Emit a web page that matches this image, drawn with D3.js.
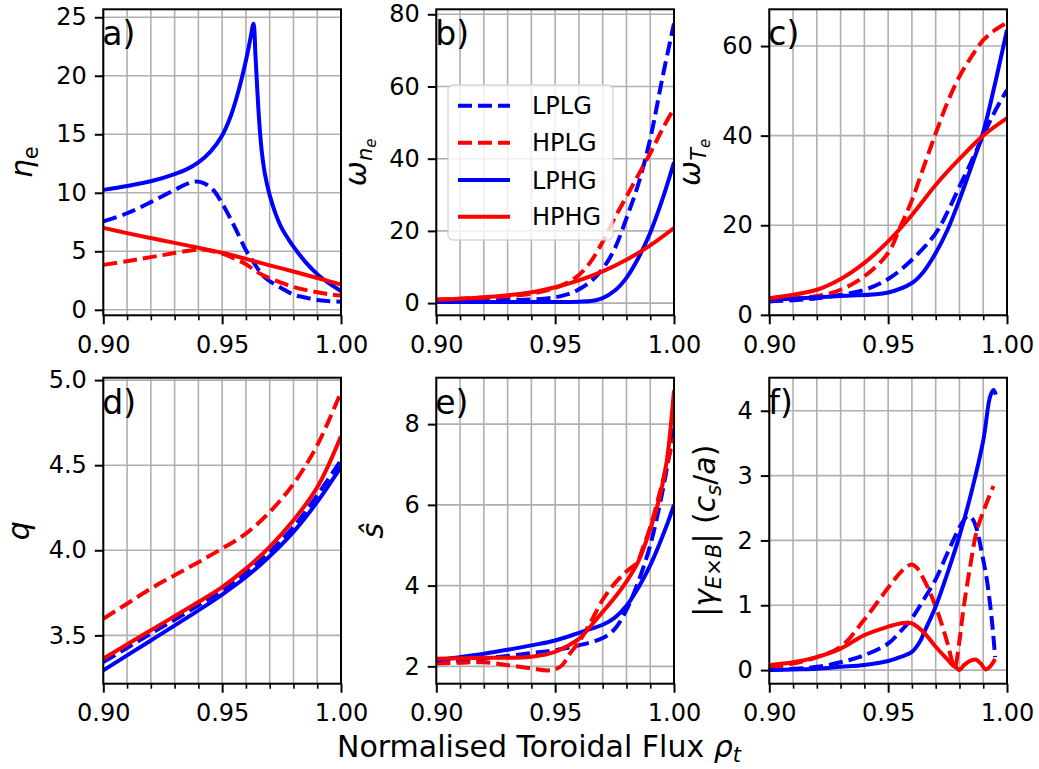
<!DOCTYPE html>
<html><head><meta charset="utf-8">
<script src="https://cdn.jsdelivr.net/npm/d3@7"></script>
<style>body{margin:0;background:#fff} svg{display:block} text{font-family:"DejaVu Sans",sans-serif;fill:#000}</style>
</head><body><svg id="c" width="1039" height="769"></svg>
<script>
// ---------------- DATA ----------------
const seriesNames = ["LPLG", "HPLG", "LPHG", "HPHG"];
const seriesColors = ["#0000ff", "#ff0000", "#0000ff", "#ff0000"];
const seriesDashed = [true, true, false, false];
const xMajorTicks = [0.90, 0.95, 1.00];
const xTickLabels = ["0.90", "0.95", "1.00"];
const xMinorTicks = [0.91, 0.92, 0.93, 0.94, 0.96, 0.97, 0.98, 0.99];
const xGrid = [0.90, 0.91, 0.92, 0.93, 0.94, 0.95, 0.96, 0.97, 0.98, 0.99, 1.00];
const panelLetters = ["a)", "b)", "c)", "d)", "e)", "f)"];

// a) eta_e
const a_LPLG = [[0.90,7.55],[0.91,8.25],[0.92,9.2],[0.93,10.25],[0.935,10.75],[0.9386,10.97],[0.942,10.85],[0.946,10.3],[0.95,9.1],[0.955,7.2],[0.96,5.1],[0.9617,4.55],[0.965,3.5],[0.967,2.95],[0.97,2.45],[0.975,1.85],[0.98,1.3],[0.985,1.05],[0.99,0.84],[0.995,0.74],[1.00,0.68]];
const a_HPLG = [[0.90,3.84],[0.91,4.15],[0.92,4.5],[0.93,4.85],[0.94,5.15],[0.945,5.05],[0.95,4.8],[0.955,4.4],[0.96,3.9],[0.965,3.2],[0.97,2.7],[0.975,2.3],[0.98,1.95],[0.985,1.7],[0.99,1.5],[0.995,1.33],[1.00,1.22]];
const a_LPHG = [[0.90,10.25],[0.91,10.58],[0.92,10.98],[0.93,11.6],[0.935,12.0],[0.94,12.6],[0.945,13.5],[0.95,14.9],[0.9537,16.6],[0.957,18.8],[0.96,21.3],[0.962,23.3],[0.9632,24.45],[0.9640,21.8],[0.9646,19.5],[0.9653,17.0],[0.9660,15.0],[0.9668,13.3],[0.968,11.6],[0.970,9.8],[0.9725,8.2],[0.975,7.0],[0.978,6.0],[0.98,5.4],[0.985,4.1],[0.99,3.05],[0.995,2.25],[1.00,1.6]];
const a_HPHG = [[0.90,7.0],[0.91,6.55],[0.92,6.13],[0.93,5.72],[0.94,5.3],[0.95,4.88],[0.96,4.35],[0.97,3.8],[0.98,3.27],[0.99,2.72],[1.00,2.15]];

// b) omega_ne
const b_LPLG = [[0.90,0.8],[0.92,0.8],[0.94,1.0],[0.95,1.6],[0.955,2.4],[0.96,3.8],[0.965,6.0],[0.97,9.5],[0.975,15],[0.98,23.5],[0.985,33],[0.99,45.5],[0.995,62],[1.00,77.5]];
const b_HPLG = [[0.90,1.0],[0.92,1.5],[0.94,2.6],[0.95,4.2],[0.955,5.6],[0.96,7.8],[0.965,11.5],[0.97,17],[0.975,23.5],[0.98,29.5],[0.985,35.5],[0.99,41.5],[0.995,48],[1.00,54]];
const b_LPHG = [[0.90,0.3],[0.95,0.3],[0.96,0.4],[0.965,0.6],[0.97,1.4],[0.975,3.4],[0.98,7.0],[0.985,12.5],[0.99,19.5],[0.995,28.5],[1.00,39]];
const b_HPHG = [[0.90,0.9],[0.92,1.6],[0.94,3.0],[0.95,4.4],[0.96,6.3],[0.97,8.8],[0.98,12.0],[0.99,16.0],[1.00,20.8]];

// c) omega_Te
const c_LPLG = [[0.90,3.0],[0.92,3.7],[0.94,5.6],[0.95,8.0],[0.96,12.3],[0.97,18.2],[0.975,23],[0.98,28.6],[0.985,34.2],[0.99,40.0],[0.995,45.5],[1.00,50.2]];
const c_HPLG = [[0.90,3.3],[0.92,4.2],[0.93,5.6],[0.94,8.6],[0.95,13.8],[0.955,19.5],[0.96,25.6],[0.965,33.1],[0.97,40.5],[0.975,47.5],[0.98,53.2],[0.985,57.6],[0.99,61.3],[0.995,63.6],[1.00,65.2]];
const c_LPHG = [[0.90,3.3],[0.93,4.2],[0.95,5.0],[0.96,7.1],[0.965,9.7],[0.97,13.8],[0.975,19],[0.98,25.7],[0.985,33.1],[0.99,40.8],[0.995,51.7],[1.00,63.6]];
const c_HPHG = [[0.90,3.7],[0.92,5.6],[0.93,8.0],[0.94,11.6],[0.95,16.4],[0.96,22.3],[0.97,29],[0.98,34.8],[0.99,40.0],[1.00,43.9]];

// d) q
const d_LPLG = [[0.90,3.343],[0.92,3.51],[0.94,3.676],[0.95,3.765],[0.96,3.867],[0.97,3.99],[0.98,4.137],[0.99,4.323],[1.00,4.53]];
const d_HPLG = [[0.90,3.598],[0.91,3.686],[0.92,3.775],[0.93,3.853],[0.94,3.93],[0.95,4.01],[0.96,4.098],[0.97,4.225],[0.98,4.39],[0.99,4.617],[1.00,4.93]];
const d_LPHG = [[0.90,3.294],[0.92,3.47],[0.94,3.647],[0.95,3.74],[0.96,3.843],[0.97,3.965],[0.98,4.108],[0.99,4.284],[1.00,4.49]];
const d_HPHG = [[0.90,3.363],[0.92,3.53],[0.94,3.696],[0.95,3.784],[0.96,3.892],[0.97,4.02],[0.98,4.176],[0.99,4.37],[1.00,4.67]];

// e) s-hat
const e_LPLG = [[0.90,2.09],[0.92,2.19],[0.94,2.33],[0.95,2.4],[0.96,2.52],[0.97,2.7],[0.975,2.92],[0.98,3.4],[0.985,4.1],[0.99,5.0],[0.994,6.0],[0.997,6.9],[1.00,7.95]];
const e_HPLG = [[0.90,2.07],[0.91,2.09],[0.92,2.1],[0.93,2.03],[0.94,1.95],[0.9465,1.9],[0.95,1.93],[0.953,2.03],[0.956,2.3],[0.96,2.6],[0.965,3.1],[0.97,3.65],[0.975,4.05],[0.98,4.35],[0.9845,4.58],[0.987,4.95],[0.99,5.45],[0.994,6.3],[0.997,7.0],[1.00,7.65]];
const e_LPHG = [[0.90,2.15],[0.92,2.31],[0.94,2.52],[0.95,2.64],[0.96,2.83],[0.965,2.93],[0.97,3.03],[0.975,3.2],[0.98,3.5],[0.985,3.95],[0.99,4.5],[0.994,5.05],[0.997,5.5],[1.00,6.0]];
const e_HPHG = [[0.90,2.19],[0.92,2.21],[0.94,2.24],[0.95,2.36],[0.955,2.5],[0.96,2.68],[0.965,3.0],[0.97,3.35],[0.975,3.7],[0.98,4.1],[0.985,4.6],[0.99,5.4],[0.994,6.2],[0.997,7.1],[1.00,8.84]];

// f) |gamma_ExB|
const f_LPLG = [[0.90,0.0],[0.91,0.02],[0.92,0.05],[0.93,0.12],[0.94,0.23],[0.95,0.41],[0.955,0.59],[0.96,0.8],[0.965,1.09],[0.97,1.4],[0.975,1.81],[0.98,2.2],[0.982,2.32],[0.9835,2.38],[0.9855,2.33],[0.9873,2.17],[0.9894,1.81],[0.9915,1.4],[0.9936,0.78],[0.995,0.2]];
const f_HPLG = [[0.90,0.05],[0.91,0.1],[0.92,0.2],[0.93,0.36],[0.94,0.78],[0.95,1.27],[0.955,1.5],[0.958,1.6],[0.96,1.63],[0.962,1.58],[0.965,1.4],[0.97,0.98],[0.975,0.41],[0.977,0.12],[0.978,0.04],[0.98,0.45],[0.9817,0.95],[0.9845,1.6],[0.9873,2.15],[0.9904,2.48],[0.9943,2.84]];
const f_LPHG = [[0.90,0.0],[0.91,0.01],[0.92,0.02],[0.93,0.05],[0.94,0.08],[0.95,0.14],[0.955,0.2],[0.96,0.28],[0.9634,0.44],[0.965,0.57],[0.97,0.98],[0.975,1.5],[0.98,2.07],[0.985,2.74],[0.99,3.54],[0.9929,4.22],[0.9943,4.32],[0.9953,4.25]];
const f_HPHG = [[0.90,0.08],[0.91,0.12],[0.92,0.2],[0.93,0.33],[0.94,0.54],[0.95,0.67],[0.955,0.72],[0.958,0.73],[0.96,0.72],[0.965,0.58],[0.97,0.36],[0.975,0.16],[0.977,0.08],[0.979,0.03],[0.98,0.0],[0.982,0.08],[0.985,0.15],[0.987,0.16],[0.989,0.1],[0.991,0.01],[0.993,0.06],[0.995,0.17]];

const yTicksA = [0, 5, 10, 15, 20, 25];
const yTicksB = [0, 20, 40, 60, 80];
const yTicksC = [0, 20, 40, 60];
const yTicksD = [3.5, 4.0, 4.5, 5.0];
const yTicksE = [2, 4, 6, 8];
const yTicksF = [0, 1, 2, 3, 4];

// ---------------- LAYOUT ----------------
const xDomain = [0.90, 1.00];
const colLeft = [103.3, 436.3, 769.3], colW = 237.7;
const rowTop = [9.3, 377.7], rowH = 306;

const panels = [
  {series:[a_LPLG,a_HPLG,a_LPHG,a_HPHG], yDomain:[-0.47,25.68], yTicks:yTicksA, fmt:d=>d3.format("d")(d), label:"a", labelX:32},
  {series:[b_LPLG,b_HPLG,b_LPHG,b_HPHG], yDomain:[-3.38,81.38], yTicks:yTicksB, fmt:d=>d3.format("d")(d), label:"b", labelX:366},
  {series:[c_LPLG,c_HPLG,c_LPHG,c_HPHG], yDomain:[-0.1,68.2], yTicks:yTicksC, fmt:d=>d3.format("d")(d), label:"c", labelX:700},
  {series:[d_LPLG,d_HPLG,d_LPHG,d_HPHG], yDomain:[3.216,5.014], yTicks:yTicksD, fmt:d=>d3.format(".1f")(d), label:"d", labelX:29},
  {series:[e_LPLG,e_HPLG,e_LPHG,e_HPHG], yDomain:[1.57,9.15], yTicks:yTicksE, fmt:d=>d3.format("d")(d), label:"e", labelX:383},
  {series:[f_LPLG,f_HPLG,f_LPHG,f_HPHG], yDomain:[-0.21,4.51], yTicks:yTicksF, fmt:d=>d3.format("d")(d), label:"f", labelX:715}
];

const svg = d3.select("#c");
const LW = 4;

function yLabel(g, p, cx, cy) {
  const t = g.append("text").attr("transform", `translate(${cx},${cy}) rotate(-90)`)
    .attr("text-anchor", "middle").style("font-size", "29px");
  const sub = (txt, it, dy, fs) => t.append("tspan").text(txt).attr("dy", dy).style("font-size", fs).style("font-style", it ? "italic" : "normal");
  if (p.label === "a") { sub("η", true, 0, "30px"); sub("e", false, 6, "21px"); }
  if (p.label === "b") { sub("ω", true, 0, "30px"); sub("n", true, 6, "21px"); sub("e", true, 4, "15px"); }
  if (p.label === "c") { sub("ω", true, 0, "30px"); sub("T", true, 6, "21px"); sub("e", true, 4, "15px"); }
  if (p.label === "d") { sub("q", true, 0, "30px"); }
  if (p.label === "e") { sub("ŝ", true, 0, "30px"); }
  if (p.label === "f") {
    sub("|", false, 0, "30px"); sub("γ", true, 0, "30px");
    sub("E", true, 6, "21px"); sub("×", false, 0, "21px"); sub("B", true, 0, "21px");
    sub("|", false, -6, "30px"); sub(" (", false, 0, "30px"); sub("c", true, 0, "30px");
    sub("s", true, 6, "21px"); sub("/", false, -6, "30px"); sub("a", true, 0, "30px"); sub(")", false, 0, "30px");
  }
}

panels.forEach((p, i) => {
  const left = colLeft[i % 3], top = rowTop[Math.floor(i / 3)];
  const x = d3.scaleLinear().domain(xDomain).range([left, left + colW]);
  const y = d3.scaleLinear().domain(p.yDomain).range([top + rowH, top]);
  const g = svg.append("g");

  // grid
  g.selectAll(".vg").data(xGrid).join("line")
    .attr("x1", d => x(d)).attr("x2", d => x(d)).attr("y1", top).attr("y2", top + rowH)
    .attr("stroke", "#b0b0b0").attr("stroke-width", 1.6);
  g.selectAll(".hg").data(p.yTicks).join("line")
    .attr("x1", left).attr("x2", left + colW).attr("y1", d => y(d)).attr("y2", d => y(d))
    .attr("stroke", "#b0b0b0").attr("stroke-width", 1.6);

  // clip
  const cid = "clip" + i;
  svg.append("clipPath").attr("id", cid).append("rect")
    .attr("x", left).attr("y", top).attr("width", colW).attr("height", rowH);

  const line = d3.line().x(d => x(d[0])).y(d => y(d[1])).curve(d3.curveCatmullRom.alpha(0.5));
  const lg = g.append("g").attr("clip-path", `url(#${cid})`);
  p.series.forEach((s, k) => {
    lg.append("path").attr("d", line(s)).attr("fill", "none")
      .attr("stroke", seriesColors[k]).attr("stroke-width", LW)
      .attr("stroke-dasharray", seriesDashed[k] ? "14,6" : null)
      .attr("stroke-linejoin", "round");
  });

  // axes
  const xa = g.append("g").attr("transform", `translate(0,${top + rowH})`)
    .call(d3.axisBottom(x).tickValues(xMajorTicks).tickFormat((d, j) => xTickLabels[j]).tickSize(9).tickPadding(11.5).tickSizeOuter(0));
  xa.select(".domain").remove();
  xa.selectAll("line").attr("stroke", "#000").attr("stroke-width", 2);
  xa.selectAll("text").style("font-size", "24px").style("font-family", "DejaVu Sans");
  const xm = g.append("g").attr("transform", `translate(0,${top + rowH})`)
    .call(d3.axisBottom(x).tickValues(xMinorTicks).tickFormat("").tickSize(5).tickSizeOuter(0));
  xm.select(".domain").remove();
  xm.selectAll("line").attr("stroke", "#000").attr("stroke-width", 1.6);

  const ya = g.append("g").attr("transform", `translate(${left},0)`)
    .call(d3.axisLeft(y).tickValues(p.yTicks).tickFormat(p.fmt).tickSize(8.5).tickPadding(8).tickSizeOuter(0));
  ya.select(".domain").remove();
  ya.selectAll("line").attr("stroke", "#000").attr("stroke-width", 2);
  ya.selectAll("text").style("font-size", "24px").style("font-family", "DejaVu Sans");

  // spines
  g.append("rect").attr("x", left).attr("y", top).attr("width", colW).attr("height", rowH)
    .attr("fill", "none").attr("stroke", "#000").attr("stroke-width", 2);

  // panel letter
  g.append("text").attr("x", left - 1).attr("y", top + 36).style("font-size", "33px").text(panelLetters[i]);

  // y label
  yLabel(g, p, p.labelX, top + rowH / 2);

  // legend in panel b
  if (i === 1) {
    const leg = g.append("g");
    leg.append("rect").attr("x", 448).attr("y", 85).attr("width", 165).attr("height", 155)
      .attr("rx", 5).attr("fill", "#fff").attr("fill-opacity", 0.8)
      .attr("stroke", "#cccccc").attr("stroke-opacity", 0.8).attr("stroke-width", 1.3);
    const rows = [105.7, 142.7, 180, 216.7];
    seriesNames.forEach((nm, k) => {
      leg.append("line").attr("x1", 458).attr("x2", 510).attr("y1", rows[k]).attr("y2", rows[k])
        .attr("stroke", seriesColors[k]).attr("stroke-width", LW)
        .attr("stroke-dasharray", seriesDashed[k] ? "14,6" : null);
      leg.append("text").attr("x", 532).attr("y", rows[k] + 8.7).style("font-size", "24px").text(nm);
    });
  }
});

// x label
const xl = svg.append("text").attr("x", 539).attr("y", 757).attr("text-anchor", "middle").style("font-size", "30px");
xl.append("tspan").text("Normalised Toroidal Flux ");
xl.append("tspan").text("ρ").style("font-style", "italic");
xl.append("tspan").text("t").style("font-style", "italic").style("font-size", "21px").attr("dy", 5);
</script>
</body></html>
